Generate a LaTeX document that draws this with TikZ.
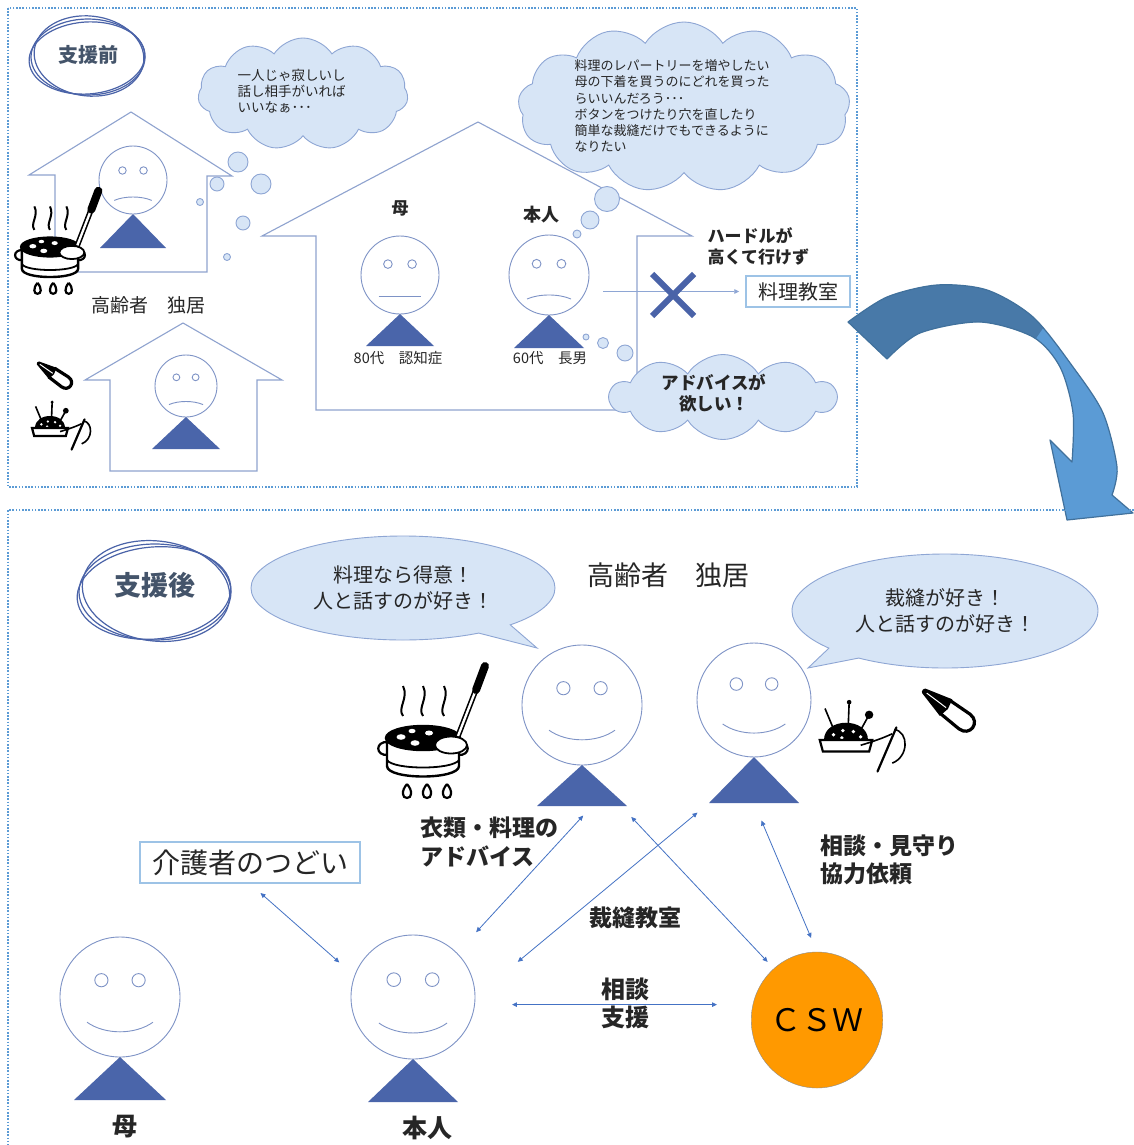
\documentclass[tikz,border=0pt]{standalone}
\usepackage{fontspec}
\setmainfont{Noto Sans CJK JP}
\usetikzlibrary{arrows.meta,shapes.symbols,shapes.callouts,shapes.misc,shapes.geometric}

\definecolor{framecol}{HTML}{5B9BD5}
\definecolor{wallcol}{HTML}{8FA3CF}
\definecolor{facecol}{HTML}{7E93C6}
\definecolor{bodycol}{HTML}{4A65AA}
\definecolor{puffcol}{HTML}{D7E5F6}
\definecolor{puffedge}{HTML}{8EA6D4}
\definecolor{tagedge}{HTML}{9DC3E6}
\definecolor{linkcol}{HTML}{4472C4}
\definecolor{pencol}{HTML}{4A63A8}
\definecolor{slatecol}{HTML}{44546A}
\definecolor{arcdark}{HTML}{4879A8}
\definecolor{arclight}{HTML}{5B9BD5}
\definecolor{arcedge}{HTML}{41719C}
\definecolor{cswcol}{HTML}{FF9900}
\definecolor{inkcol}{HTML}{262626}

\begin{document}
\begin{tikzpicture}[
        x=1pt, y=-1pt,
        text=inkcol,
        panel/.style={draw=framecol, line width=1.6pt, dash pattern=on 1.6pt off 1.6pt},
        house/.style={draw=wallcol, line width=1.1pt},
        head/.style={circle, draw=facecol, line width=0.9pt, fill=white, inner sep=0pt},
        faceline/.style={draw=facecol, line width=0.9pt},
        puff/.style={cloud, cloud puffs=11, cloud puff arc=115, cloud ignores aspect,
            draw=puffedge, fill=puffcol, line width=0.9pt, inner sep=0pt},
        bubble/.style={draw=puffedge, fill=puffcol, line width=0.9pt},
        speech/.style={ellipse callout, draw=puffedge, fill=puffcol, line width=0.9pt,
            inner sep=0pt, align=center, font=\fontsize{20}{26}\selectfont},
        tag/.style={draw=tagedge, line width=1.5pt, fill=white, inner sep=0pt},
        link/.style={{Triangle[length=5pt,width=4.5pt]}-{Triangle[length=5pt,width=4.5pt]},
            draw=linkcol, line width=0.8pt},
        scribble/.style={draw=pencol, line width=1.2pt},
        heading/.style={text=slatecol, font=\fontsize{#1}{#1}\selectfont\bfseries},
        % head, eyes, mouth and body of one person
        pics/face/.style n args={5}{code={
            \node[head, minimum size=2*#1] (-head) at (0,0) {};
            \draw[faceline] (-0.31*#1,-0.28*#1) circle [radius=0.11*#1]
                            (0.31*#1,-0.28*#1) circle [radius=0.11*#1];
            \draw[faceline] (-0.55*#1,#4*#1)
                .. controls (-0.25*#1,{(4*#5-#4)/3*#1}) and (0.25*#1,{(4*#5-#4)/3*#1})
                .. (0.55*#1,#4*#1);
            \fill[bodycol] (0,#1) -- (-#2,#1+#3) -- (#2,#1+#3) -- cycle;
            \coordinate (-base) at (0,#1+#3);
            \coordinate (-left) at (-#2,#1+#3);
            \coordinate (-right) at (#2,#1+#3);
        }},
        % cooking pot icon
        pics/pot/.style={code={
            \draw[line width=2pt] (-20,-22) .. controls (-26,-30) and (-14,-40) .. (-20,-52)
                                  (0,-22) .. controls (-6,-30) and (6,-40) .. (0,-52)
                                  (21,-22) .. controls (15,-30) and (27,-40) .. (21,-52);
            \draw[line width=2.2pt] (-35,4) .. controls (-48,3) and (-48,18) .. (-35,17)
                                    (35,4) .. controls (48,3) and (48,18) .. (35,17);
            \draw[line width=2.4pt, fill=white] (-36,0) -- (-36,28)
                .. controls (-36,42) and (36,42) .. (36,28) -- (36,0);
            \draw[line width=1.8pt] (-36,22) .. controls (-30,32) and (30,32) .. (36,22);
            \draw[line width=2.4pt, fill=black] (0,0) ellipse [x radius=37, y radius=12];
            \fill[white] (-22,-1) ellipse [x radius=4.5, y radius=2.8]
                         (-8,5) ellipse [x radius=4.5, y radius=2.8]
                         (6,-5) ellipse [x radius=4, y radius=2.5]
                         (-11,-7) ellipse [x radius=3.5, y radius=2.2];
            \draw[line width=5.5pt, line cap=round] (35,-2) -- (52,-46);
            \draw[white, line width=2.3pt] (35,-2) -- (52,-46);
            \draw[line width=8pt, line cap=round] (53,-48) -- (62,-72);
            \draw[line width=1.8pt, fill=white] (28,7) ellipse [x radius=16, y radius=8.5];
            \draw[line width=2.2pt]
                (-16,46) .. controls (-22,53) and (-21,60) .. (-16,60) .. controls (-11,60) and (-10,53) .. (-16,46)
                (4,46) .. controls (-2,53) and (-1,60) .. (4,60) .. controls (9,60) and (10,53) .. (4,46)
                (24,46) .. controls (18,53) and (19,60) .. (24,60) .. controls (29,60) and (30,53) .. (24,46);
        }},
        % thread snips icon
        pics/snips/.style={code={
            \fill (0,-2.5) -- (24,-9) -- (26,0) -- (24,9) -- (0,2.5)
                .. controls (-2,2) and (-2,-2) .. cycle;
            \draw[white, line width=1pt] (3,0) -- (24,0);
            \draw[line width=3.2pt, line join=round] (22,-7) -- (44,-8)
                .. controls (56,-8) and (56,8) .. (44,8) -- (22,7);
        }},
        % pincushion with needle icon
        pics/cushion/.style={code={
            \draw[line width=1.6pt] (-10,-6) -- (-20,-30) (2,-10) -- (3,-36) (12,-6) -- (22,-24);
            \fill (3,-36) circle [radius=2.2] (22,-24) circle [radius=4];
            \fill (-21,0) .. controls (-21,-22) and (21,-22) .. (21,0) -- cycle;
            \fill[white] (-12,-5) circle [radius=1.8] (-3,-9) circle [radius=1.8]
                         (7,-8) circle [radius=1.8] (14,-3) circle [radius=1.8]
                         (-4,-2) circle [radius=1.8];
            \draw[line width=2.2pt, fill=white] (-25,0) -- (25,0) -- (22,11) -- (-22,11) -- cycle;
            \draw[line width=1.6pt] (14,5) .. controls (24,2) and (36,-2) .. (44,-6);
            \draw[line width=1.6pt] (46,-10) .. controls (60,-8) and (60,16) .. (44,22);
            \draw[line width=2.2pt, line cap=round] (30,30) -- (48,-12);
        }}
    ]

    \fill[white] (0,0) rectangle (1134,1145);
    \useasboundingbox (0,0) rectangle (1134,1145);

    % ---------- before support ----------
    \draw[panel] (8,8) rectangle (857,487);

    \node[heading=20] (before) at (88,55) {支援前};
    \draw[scribble] (88,57) ellipse [x radius=57, y radius=38];
    \draw[scribble, rotate around={-6:(89,56)}] (89,56) ellipse [x radius=55, y radius=40];
    \draw[scribble, rotate around={4:(87,58)}] (87,58) ellipse [x radius=58, y radius=36];

    % lonely elder living alone
    \node[puff, minimum width=210pt, minimum height=112pt] (lonely) at (303,94) {};
    \node[anchor=west, align=left, font=\fontsize{13.5}{16}\selectfont] (lonelytext)
        at (234,91) {一人じゃ寂しいし\\話し相手がいれば\\いいなぁ･･･};
    \draw[bubble] (238,162) circle [radius=10] (261,184) circle [radius=10]
                  (217,184) circle [radius=7] (200,202) circle [radius=3.5]
                  (243,223) circle [radius=7] (227,257) circle [radius=3.5];

    \draw[house] (29,175) -- (131,112) -- (232,176) -- (207,176) -- (207,272)
                 -- (55,272) -- (55,175) -- cycle;
    \pic (eA) at (133,180) {face={34}{33}{34}{0.6}{0.5}};
    \pic[scale=0.78] at (50,247) {pot};
    \node[font=\fontsize{19}{22}\selectfont] (eAlabel) at (148,305) {高齢者　独居};

    % mother and son at home
    \node[puff, cloud puffs=13, minimum width=332pt, minimum height=170pt] (wishes)
        at (684,107) {};
    \node[anchor=west, align=left, font=\fontsize{13}{16.2}\selectfont] (wishtext)
        at (571,106) {料理のレパートリーを増やしたい\\母の下着を買うのにどれを買った\\らいいんだろう･･･\\ボタンをつけたり穴を直したり\\簡単な裁縫だけでもできるように\\なりたい};

    \draw[house] (262,236) -- (478,122) -- (692,236) -- (637,236) -- (637,410)
                 -- (316,410) -- (316,236) -- cycle;
    \node[font=\fontsize{17}{20}\selectfont\bfseries] (mAlabel) at (400,208) {母};
    \node[font=\fontsize{18}{21}\selectfont\bfseries] (hAlabel) at (541,215) {本人};
    \pic (mA) at (400,275) {face={39}{34}{32}{0.55}{0.55}};
    \pic (hA) at (549,275) {face={40}{35}{33}{0.6}{0.5}};
    \node[font=\fontsize{14.5}{17}\selectfont] (mAnote) at (398,358) {80代　認知症};
    \node[font=\fontsize{14.5}{17}\selectfont] (hAnote) at (550,358) {60代　長男};

    \draw[bubble] (577,234) circle [radius=4] (590,220) circle [radius=9]
                  (607,199) circle [radius=12.5]
                  (586,337) circle [radius=3] (603,343) circle [radius=5.5]
                  (625,353) circle [radius=8];

    \node[puff, cloud puffs=10, minimum width=226pt, minimum height=85pt] (advice)
        at (723,397) {};
    \node[align=center, font=\fontsize{17.5}{21}\selectfont\bfseries] (advicetext)
        at (714,393) {アドバイスが\\欲しい！};

    % cooking class out of reach
    \node[anchor=west, align=left, font=\fontsize{17}{21}\selectfont\bfseries] (hurdle)
        at (704,246) {ハードルが\\高くて行けず};
    \node[tag, minimum width=104pt, minimum height=31pt,
        font=\fontsize{20}{24}\selectfont] (ryouri) at (798,291.5) {料理教室};
    \draw[-{Triangle[length=5pt,width=4.5pt]}, draw=puffedge, line width=0.9pt,
        shorten <=14pt, shorten >=6pt] (ryouri.west -| hA-head.east) -- (ryouri.west);
    \node[cross out, draw=pencol, line width=6pt, minimum size=36pt, inner sep=0pt]
        (nogo) at (673,295) {};

    % second elder living alone
    \draw[house] (85,380) -- (183,323) -- (282,380) -- (257,380) -- (257,471)
                 -- (110,471) -- (110,380) -- cycle;
    \pic (eB) at (186,386) {face={31}{34}{32}{0.6}{0.5}};
    \pic[scale=0.75, rotate=-35] at (38,363) {snips};
    \pic[scale=0.72] at (50,428) {cushion};

    % turn-over arrow
    \fill[arclight] plot[smooth] coordinates {(848,322) (887,297) (937,285) (987,290)
            (1033,317) (1073,367) (1103,413) (1117,467) (1112,495)}
        -- (1133,513) -- (1067,520) -- (1050,440)
        -- plot[smooth] coordinates {(1072,462) (1073,413) (1060,367) (1033,337)
            (980,322) (920,333) (887,359)} -- cycle;
    \begin{scope}
        \clip (830,250) -- (1055,250) -- (1050,318) -- (1028,350) -- (830,420) -- cycle;
        \fill[arcdark] plot[smooth] coordinates {(848,322) (887,297) (937,285) (987,290)
                (1033,317) (1073,367) (1103,413) (1117,467) (1112,495)}
            -- (1133,513) -- (1067,520) -- (1050,440)
            -- plot[smooth] coordinates {(1072,462) (1073,413) (1060,367) (1033,337)
                (980,322) (920,333) (887,359)} -- cycle;
    \end{scope}
    \draw[arcedge, line width=1.2pt, line join=round]
        plot[smooth] coordinates {(848,322) (887,297) (937,285) (987,290)
            (1033,317) (1073,367) (1103,413) (1117,467) (1112,495)}
        -- (1133,513) -- (1067,520) -- (1050,440)
        -- plot[smooth] coordinates {(1072,462) (1073,413) (1060,367) (1033,337)
            (980,322) (920,333) (887,359)} -- cycle;

    % ---------- after support ----------
    \draw[panel] (1134,510) -- (8,510) -- (8,1145);

    \node[heading=27] (after) at (155,585) {支援後};
    \draw[scribble] (155,592) ellipse [x radius=76, y radius=48];
    \draw[scribble, rotate around={-7:(156,591)}] (156,591) ellipse [x radius=74, y radius=50];
    \draw[scribble, rotate around={5:(154,593)}] (154,593) ellipse [x radius=77, y radius=46];

    \node[speech, minimum width=304pt, minimum height=104pt,
        callout absolute pointer={(537,648)}] (talkA) at (403,588)
        {料理なら得意！\\人と話すのが好き！};
    \node[font=\fontsize{27}{30}\selectfont] (eBlabel) at (668,575) {高齢者　独居};
    \node[speech, minimum width=306pt, minimum height=114pt,
        callout absolute pointer={(808,668)}] (talkB) at (945,611)
        {裁縫が好き！\\人と話すのが好き！};

    \pic (eA2) at (582,705) {face={60}{45}{41}{0.42}{0.58}};
    \pic (eB2) at (754,700) {face={57}{45}{46}{0.42}{0.58}};
    \pic at (423,738) {pot};
    \pic[scale=1.05] at (846,740) {cushion};
    \pic[scale=1.15, rotate=-37] at (924,691) {snips};

    \node[anchor=west, align=left, font=\fontsize{23}{29}\selectfont\bfseries] (advise)
        at (417,842) {衣類・料理の\\アドバイス};
    \node[anchor=west, align=left, font=\fontsize{23}{28}\selectfont\bfseries] (watch)
        at (817,860) {相談・見守り\\協力依頼};
    \node[font=\fontsize{23}{26}\selectfont\bfseries] (sewing) at (635,918) {裁縫教室};
    \node[align=center, font=\fontsize{24}{28}\selectfont\bfseries] (support)
        at (625,1003) {相談\\支援};

    \node[tag, minimum width=220pt, minimum height=41pt,
        font=\fontsize{28}{32}\selectfont] (tsudoi) at (250,862.5) {介護者のつどい};

    \pic (mB) at (120,997) {face={60}{46}{43}{0.42}{0.58}};
    \pic (hB) at (413,997) {face={62}{45}{43}{0.42}{0.58}};
    \node[font=\fontsize{25}{28}\selectfont\bfseries] (mBlabel) at (125,1127) {母};
    \node[font=\fontsize{25}{28}\selectfont\bfseries] (hBlabel) at (427,1128) {本人};

    \node[ellipse, draw=black!45, fill=cswcol, minimum width=116pt, minimum height=136pt,
        inner sep=0pt, text=black, font=\fontsize{31}{34}\selectfont] (csw) at (817,1020) {ＣＳＷ};

    \draw[link, shorten <=14pt, shorten >=20pt] (tsudoi.south) -- (hB-head.160);
    \draw[link, shorten <=28pt, shorten >=13pt] (hB-head.45) -- ([xshift=10pt]eA2-base);
    \draw[link, shorten <=55pt, shorten >=15pt] (hB-head.0) -- (eB2-left);
    \draw[link, shorten <=15pt, shorten >=9pt] ([xshift=-6pt]eA2-right) -- (csw.130);
    \draw[link, shorten <=19pt, shorten >=15pt] (eB2-base) -- (csw.north);
    \draw[link, shorten <=37pt, shorten >=34pt] (hB-head.353) -- (hB-head.353 -| csw.west);

\end{tikzpicture}
\end{document}
